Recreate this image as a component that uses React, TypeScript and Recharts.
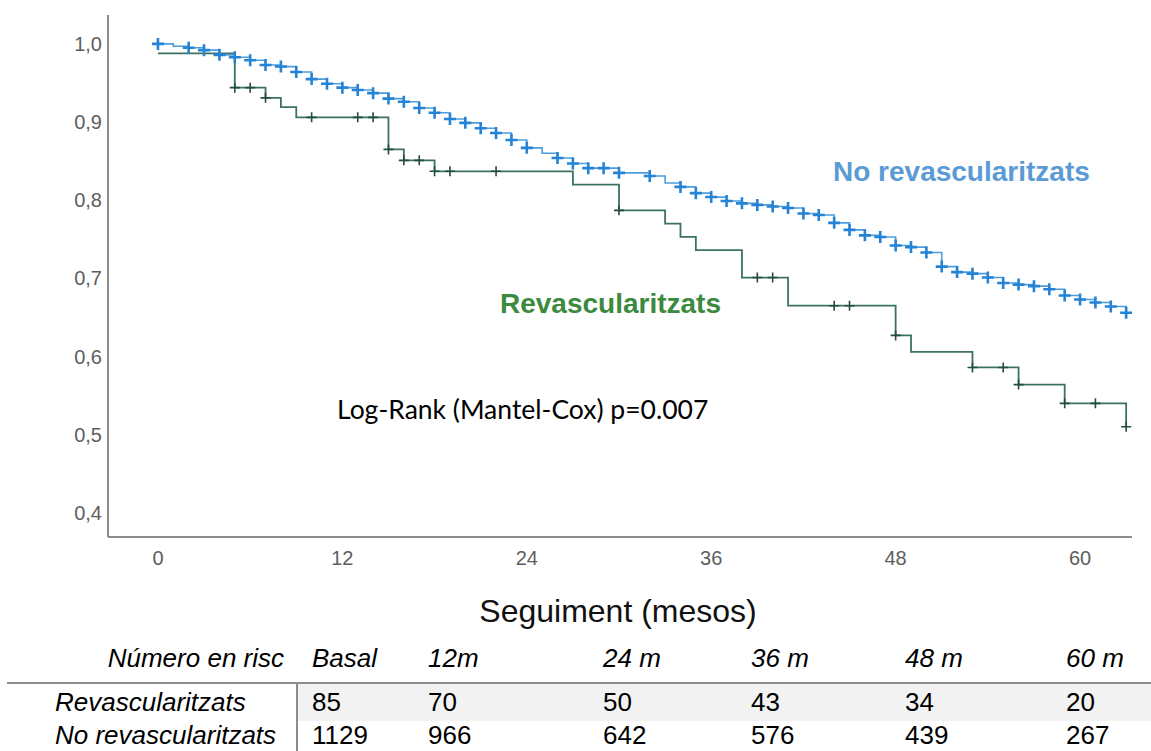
import { ComposedChart, Line, Scatter, XAxis, YAxis } from "recharts";

// Kaplan-Meier steps: each time starts a new survival level
const revascTimes = [0, 5, 7, 8, 9, 15, 16, 18, 27, 30, 33, 34, 35, 38, 41, 48, 49, 53, 56, 59, 63];
const revascSurv = [0.988, 0.944, 0.931, 0.919, 0.906, 0.865, 0.851, 0.837, 0.82, 0.787, 0.77, 0.753, 0.736, 0.701, 0.665, 0.627, 0.606, 0.586, 0.564, 0.54, 0.51];
const revascCensored = [5, 6, 7, 10, 13, 14, 15, 16, 17, 18, 19, 22, 30, 39, 40, 44, 45, 48, 53, 55, 56, 59, 61, 63];

const noRevascTimes = [
  0, 1, 2, 3, 4, 5, 6, 7, 8, 9, 10, 11, 12, 13, 14, 15, 16, 17, 18, 19, 20, 21, 22, 23, 24, 25, 26, 27, 28, 30,
  32, 33, 34, 35, 36, 37, 38, 39, 40, 41, 42, 43, 44, 45, 46, 47, 48, 49, 50, 51, 52, 53, 54, 55, 56, 57, 58, 59,
  60, 61, 62, 63,
];
const noRevascSurv = [
  1.0, 0.997, 0.995, 0.992, 0.986, 0.983, 0.979, 0.973, 0.971, 0.964, 0.955, 0.949, 0.944, 0.941, 0.937, 0.93,
  0.926, 0.918, 0.912, 0.904, 0.899, 0.892, 0.886, 0.877, 0.867, 0.86, 0.854, 0.847, 0.841, 0.835, 0.831, 0.822,
  0.817, 0.809, 0.804, 0.799, 0.796, 0.794, 0.792, 0.79, 0.783, 0.781, 0.771, 0.762, 0.755, 0.753, 0.742, 0.74,
  0.733, 0.715, 0.708, 0.706, 0.701, 0.694, 0.692, 0.69, 0.686, 0.678, 0.673, 0.669, 0.664, 0.656,
];
const noRevascCensored = [
  0, 2, 3, 4, 5, 6, 7, 8, 9, 10, 11, 12, 13, 14, 15, 16, 17, 18, 19, 20, 21, 22, 23, 24, 26, 27, 28, 29, 30, 32,
  34, 35, 36, 37, 38, 39, 40, 41, 42, 43, 44, 45, 46, 47, 48, 49, 50, 51, 52, 53, 54, 55, 56, 57, 58, 59, 60, 61,
  62, 63,
];

const xTicks = [0, 12, 24, 36, 48, 60];
const yTicks = [0.4, 0.5, 0.6, 0.7, 0.8, 0.9, 1.0];

// numbers at risk table
const riskHeader = ["Basal", "12m", "24 m", "36 m", "48 m", "60 m"];
const riskRevasc = [85, 70, 50, 43, 34, 20];
const riskNoRevasc = [1129, 966, 642, 576, 439, 267];
const riskColX = [312, 428, 603, 751, 905, 1066];

const steps = (times: number[], surv: number[]) => times.map((t, i) => ({ t, s: surv[i] }));

const survAt = (times: number[], surv: number[], t: number) => {
  let s = surv[0];
  times.forEach((ti, i) => {
    if (ti <= t) s = surv[i];
  });
  return s;
};

const marks = (times: number[], surv: number[], censored: number[]) =>
  censored.map((t) => ({ t, s: survAt(times, surv, t) }));

const plus = (color: string, half: number, width: number) => (props: any) => {
  const { cx, cy } = props;
  return (
    <path
      d={`M${cx - half},${cy}H${cx + half}M${cx},${cy - half}V${cy + half}`}
      stroke={color}
      strokeWidth={width}
      fill="none"
    />
  );
};

const tickStyle = { fill: "#5e5e5e", fontSize: 20, fontFamily: "Liberation Sans, Arial, sans-serif" };
const sans = "Liberation Sans, Arial, sans-serif";

const cell = (left: number, top: number, italic: boolean) => ({
  position: "absolute" as const,
  left,
  top,
  fontFamily: sans,
  fontStyle: italic ? "italic" : "normal",
  fontSize: 26,
  lineHeight: "24px",
  color: "#000",
  whiteSpace: "nowrap" as const,
});

export default function App() {
  return (
    <div style={{ position: "absolute", left: 0, top: 0, width: 1151, height: 751, background: "#fff", overflow: "hidden" }}>
      <ComposedChart width={1151} height={580} margin={{ top: 15, right: 19, left: 0, bottom: 0 }}>
        <XAxis
          type="number"
          dataKey="t"
          domain={[-3.25, 63.38]}
          ticks={xTicks}
          allowDataOverflow
          tickLine={false}
          tickSize={0}
          tickMargin={14}
          height={43}
          axisLine={{ stroke: "#8c8c8c", strokeWidth: 2 }}
          tick={tickStyle}
        />
        <YAxis
          type="number"
          dataKey="s"
          domain={[0.369, 1.037]}
          ticks={yTicks}
          allowDataOverflow
          width={108}
          tickLine={false}
          tickSize={0}
          tickMargin={6}
          axisLine={{ stroke: "#8c8c8c", strokeWidth: 2 }}
          tick={tickStyle}
          tickFormatter={(v: number) => v.toFixed(1).replace(".", ",")}
        />
        <Line
          data={steps(revascTimes, revascSurv)}
          dataKey="s"
          type="stepAfter"
          stroke="#3c7262"
          strokeWidth={1.8}
          dot={false}
          isAnimationActive={false}
        />
        <Line
          data={steps(noRevascTimes, noRevascSurv)}
          dataKey="s"
          type="stepAfter"
          stroke="#4d9edb"
          strokeWidth={1.6}
          dot={false}
          isAnimationActive={false}
        />
        <Scatter
          data={marks(revascTimes, revascSurv, revascCensored)}
          dataKey="s"
          shape={plus("#234d3c", 5, 1.6)}
          isAnimationActive={false}
        />
        <Scatter
          data={marks(noRevascTimes, noRevascSurv, noRevascCensored)}
          dataKey="s"
          shape={plus("#2583d6", 6, 2.6)}
          isAnimationActive={false}
        />
      </ComposedChart>

      {/* curve labels and test result */}
      <div style={{ position: "absolute", left: 833, top: 157, fontFamily: sans, fontWeight: "bold", fontSize: 28, lineHeight: "30px", color: "#5b9bd5", whiteSpace: "nowrap" }}>
        No revascularitzats
      </div>
      <div style={{ position: "absolute", left: 500, top: 289, fontFamily: sans, fontWeight: "bold", fontSize: 28, lineHeight: "30px", color: "#3b8a3e", whiteSpace: "nowrap" }}>
        Revascularitzats
      </div>
      <div style={{ position: "absolute", left: 337, top: 394, fontFamily: "Lato, sans-serif", fontSize: 26.5, lineHeight: "30px", color: "#000", whiteSpace: "nowrap" }}>
        Log-Rank (Mantel-Cox) p=0.007
      </div>

      {/* axis title */}
      <div style={{ position: "absolute", left: 0, width: 1236, top: 594, textAlign: "center", fontFamily: sans, fontSize: 32, lineHeight: "34px", color: "#111" }}>
        Seguiment (mesos)
      </div>

      {/* numbers at risk */}
      <div style={{ position: "absolute", left: 297, top: 684, width: 854, height: 37, background: "#f2f2f2" }} />
      <div style={{ position: "absolute", left: 7, top: 682, width: 1144, height: 2, background: "#8c8c8c" }} />
      <div style={{ position: "absolute", left: 296, top: 684, width: 2, height: 67, background: "#8c8c8c" }} />
      <div style={{ ...cell(0, 646, true), left: undefined, right: 1151 - 284 }}>Número en risc</div>
      <div style={cell(55, 690, true)}>Revascularitzats</div>
      <div style={cell(55, 723, true)}>No revascularitzats</div>
      {riskHeader.map((h, i) => (
        <div key={h} style={cell(riskColX[i], 646, true)}>
          {h}
        </div>
      ))}
      {riskRevasc.map((n, i) => (
        <div key={"r" + i} style={cell(riskColX[i], 690, false)}>
          {n}
        </div>
      ))}
      {riskNoRevasc.map((n, i) => (
        <div key={"n" + i} style={cell(riskColX[i], 723, false)}>
          {n}
        </div>
      ))}
    </div>
  );
}
